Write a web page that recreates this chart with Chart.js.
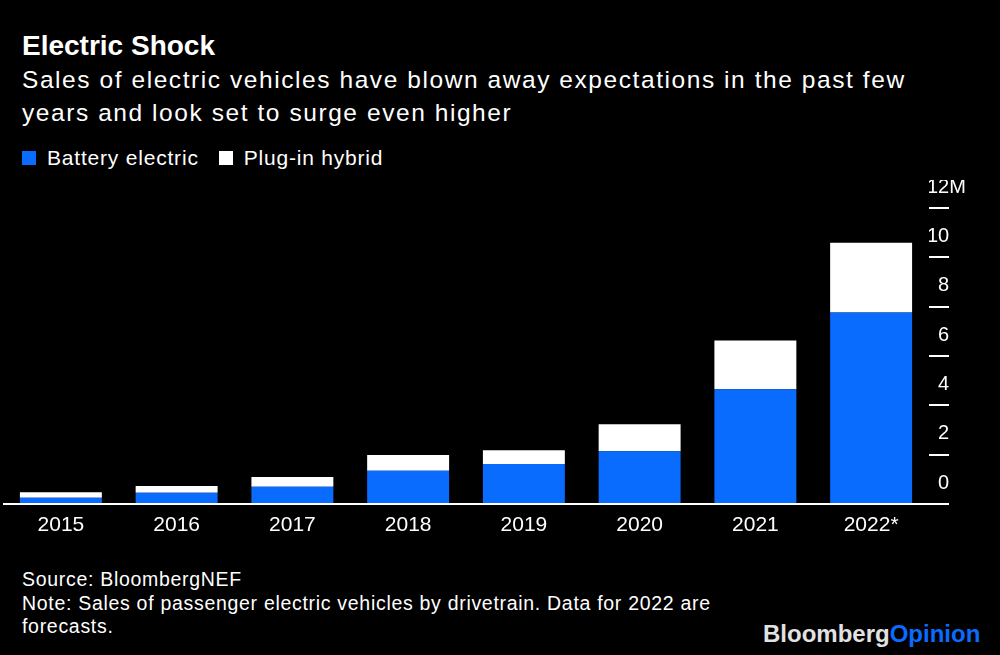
<!DOCTYPE html>
<html>
<head>
<meta charset="utf-8">
<script src="https://cdn.jsdelivr.net/npm/chart.js@4"></script>
<style>
  html, body { margin: 0; padding: 0; background: #000; width: 1000px; height: 655px; overflow: hidden; }
  body { position: relative; font-family: "Liberation Sans", Arial, sans-serif; color: #fff; }
  .title { position: absolute; left: 22px; top: 30px; font-size: 28px; font-weight: bold; letter-spacing: 0px; line-height: 32px; }
  .sub { position: absolute; left: 22px; top: 63px; font-size: 24.5px; line-height: 33px; width: 975px; letter-spacing: 1.57px; white-space: nowrap; }
  .legend { position: absolute; left: 22px; top: 146px; font-size: 21px; line-height: 24px; display: flex; align-items: center; letter-spacing: 0.8px; }
  .legend .sw { width: 14px; height: 14px; display: inline-block; margin-right: 11px; }
  .legend .item { display: flex; align-items: center; margin-right: 20px; }
  .foot { position: absolute; left: 22px; top: 568px; font-size: 19.5px; line-height: 23.5px; letter-spacing: 0.7px; white-space: nowrap; }
  .logo { position: absolute; left: 763px; top: 620px; font-size: 24px; font-weight: bold; letter-spacing: 0px; line-height: 28px; }
  .logo .b { color: #e2e2e2; }
  .logo .o { color: #0a6cff; }
  #wrap { position: absolute; left: 0; top: 180px; width: 1000px; height: 370px; }
</style>
</head>
<body>
<div class="title">Electric Shock</div>
<div class="sub">Sales of electric vehicles have blown away expectations in the past few<br>years and look set to surge even higher</div>
<div class="legend">
  <span class="item"><span class="sw" style="background:#0a6cff"></span>Battery electric</span>
  <span class="item"><span class="sw" style="background:#fff"></span>Plug-in hybrid</span>
</div>
<div id="wrap"><canvas id="c"></canvas></div>
<div class="foot">Source: BloombergNEF<br>Note: Sales of passenger electric vehicles by drivetrain. Data for 2022 are<br>forecasts.</div>
<div class="logo"><span class="b">Bloomberg</span><span class="o">Opinion</span></div>
<script>
const years = ["2015", "2016", "2017", "2018", "2019", "2020", "2021", "2022*"];
const batteryElectric = [0.25, 0.46, 0.70, 1.35, 1.62, 2.14, 4.65, 7.76];
const plugInHybrid = [0.23, 0.27, 0.39, 0.64, 0.56, 1.09, 1.98, 2.83];
const yTicks = [0, 2, 4, 6, 8, 10, 12];
const yTickLabels = ["\u20070", "\u20072", "\u20074", "\u20076", "\u20078", "10", "12M"];

const BLUE = "#0a6cff";
const WHITE = "#ffffff";

new Chart(document.getElementById("c"), {
  type: "bar",
  data: {
    labels: years,
    datasets: [
      { label: "Battery electric", data: batteryElectric, backgroundColor: BLUE, borderWidth: 0, barPercentage: 0.708, categoryPercentage: 1 },
      { label: "Plug-in hybrid", data: plugInHybrid, backgroundColor: WHITE, borderWidth: 0, barPercentage: 0.708, categoryPercentage: 1 }
    ]
  },
  options: {
    responsive: true,
    maintainAspectRatio: false,
    animation: false,
    layout: { padding: { top: 28, left: 3, right: 0, bottom: 0 } },
    plugins: { legend: { display: false }, tooltip: { enabled: false } },
    scales: {
      x: {
        stacked: true,
        grid: { display: false, drawTicks: false },
        border: { display: false },
        ticks: { color: WHITE, font: { family: "Liberation Sans", size: 21 }, padding: 9, maxRotation: 0 },
        afterFit: s => { s.height = 46; }
      },
      y: {
        stacked: true,
        position: "right",
        min: 0,
        max: 12,
        afterBuildTicks: s => { s.ticks = yTicks.map(v => ({ value: v })); },
        grid: {
          drawOnChartArea: true,
          color: ctx => (ctx.tick && ctx.tick.value === 0) ? WHITE : "rgba(0,0,0,0)",
          tickColor: WHITE,
          tickLength: 20,
          lineWidth: 2,
          tickWidth: 2
        },
        border: { display: false },
        ticks: {
          color: WHITE,
          font: { family: "Liberation Sans", size: 20 },
          padding: -22,
          labelOffset: -21,
          crossAlign: "near",
          callback: (v) => { const i = yTicks.indexOf(v); return i >= 0 ? yTickLabels[i] : ""; }
        },
        afterFit: s => { s.width = 71; }
      }
    }
  }
});
</script>
</body>
</html>
